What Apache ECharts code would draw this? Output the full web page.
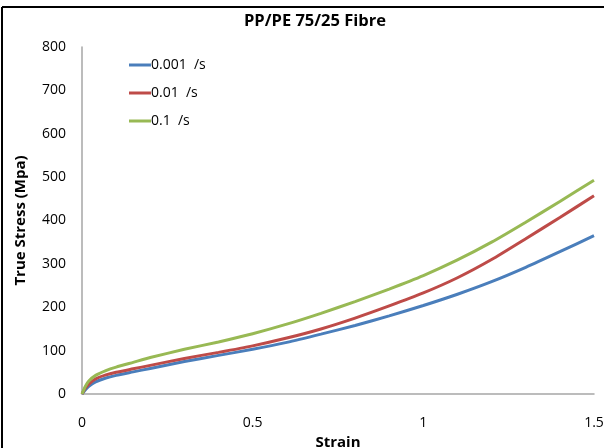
<!DOCTYPE html>
<html>
<head>
<meta charset="utf-8">
<script src="https://cdn.jsdelivr.net/npm/echarts@6/dist/echarts.min.js"></script>
<style>html,body{margin:0;padding:0;background:#fff}#c{width:604px;height:448px}</style>
</head>
<body>
<div id="c"></div>
<script>
const strain = [0, 0.01, 0.02, 0.04, 0.07, 0.1, 0.15, 0.2, 0.3, 0.4, 0.5, 0.6, 0.7, 0.8, 0.9, 1.0, 1.1, 1.2, 1.3, 1.4, 1.5];
const s0001 = [0, 10, 18, 28, 37, 43, 51, 59, 75, 89, 103, 119, 138, 158, 180, 204, 230, 259, 292, 328, 365];
const s001  = [0, 14, 23, 35, 44, 50, 58, 66, 82, 96, 111, 129, 150, 175, 203, 233, 268, 310, 358, 407, 457];
const s01   = [0, 18, 30, 43, 54, 62, 73, 84, 103, 120, 139, 161, 186, 213, 242, 273, 309, 350, 396, 444, 493];
const seriesNames = ['0.001  /s', '0.01  /s', '0.1  /s'];
const colors = ['#4A7EBB', '#BE4B48', '#98B954'];
const yTicks = [0, 100, 200, 300, 400, 500, 600, 700, 800];

const font = 'Open Sans, Liberation Sans, sans-serif';
const chart = echarts.init(document.getElementById('c'));
const mk = arr => strain.map((x, i) => [x, arr[i]]);
const all = [s0001, s001, s01];
chart.setOption({
  animation: false,
  backgroundColor: '#fff',
  title: {
    text: 'PP/PE 75/25 Fibre', left: 310, top: 8, textAlign: 'center',
    textStyle: {fontFamily: font, fontSize: 16.5, fontWeight: 'bold', color: '#000'}
  },
  legend: {
    orient: 'vertical', left: 124, top: 53, itemWidth: 22, itemHeight: 3, itemGap: 14,
    icon: 'rect',
    textStyle: {fontFamily: font, fontSize: 14, color: '#000', padding: [0, 0, 0, -5]},
    data: seriesNames
  },
  grid: {left: 82, right: 10, top: 47, bottom: 54, containLabel: false, outerBoundsMode: 'none'},
  xAxis: {
    type: 'value', min: 0, max: 1.5, interval: 0.5,
    name: 'Strain', nameLocation: 'middle', nameGap: 36,
    nameTextStyle: {fontFamily: font, fontSize: 15, fontWeight: 'bold', color: '#000'},
    axisLine: {lineStyle: {color: '#A6A6A6', width: 1.5}},
    axisTick: {show: false},
    splitLine: {show: false},
    axisLabel: {fontFamily: font, fontSize: 14, color: '#000', margin: 22}
  },
  yAxis: {
    type: 'value', min: yTicks[0], max: yTicks[yTicks.length - 1], interval: 100,
    name: 'True Stress (Mpa)', nameLocation: 'middle', nameGap: 54, nameRotate: 90,
    nameTextStyle: {fontFamily: font, fontSize: 15, fontWeight: 'bold', color: '#000'},
    axisLine: {show: true, lineStyle: {color: '#A6A6A6', width: 1.5}},
    axisTick: {show: false},
    splitLine: {show: false},
    axisLabel: {fontFamily: font, fontSize: 14, color: '#000', margin: 16}
  },
  series: seriesNames.map((n, i) => ({
    name: n, type: 'line', data: mk(all[i]), symbol: 'none', smooth: 0.2,
    lineStyle: {color: colors[i], width: 3}, itemStyle: {color: colors[i]}
  })),
  graphic: [
    {type: 'line', shape: {x1: 2, y1: 7, x2: 604, y2: 7}, style: {stroke: '#000', lineWidth: 2}},
    {type: 'line', shape: {x1: 2, y1: 7, x2: 2, y2: 448}, style: {stroke: '#000', lineWidth: 2}}
  ]
});
</script>
</body>
</html>
